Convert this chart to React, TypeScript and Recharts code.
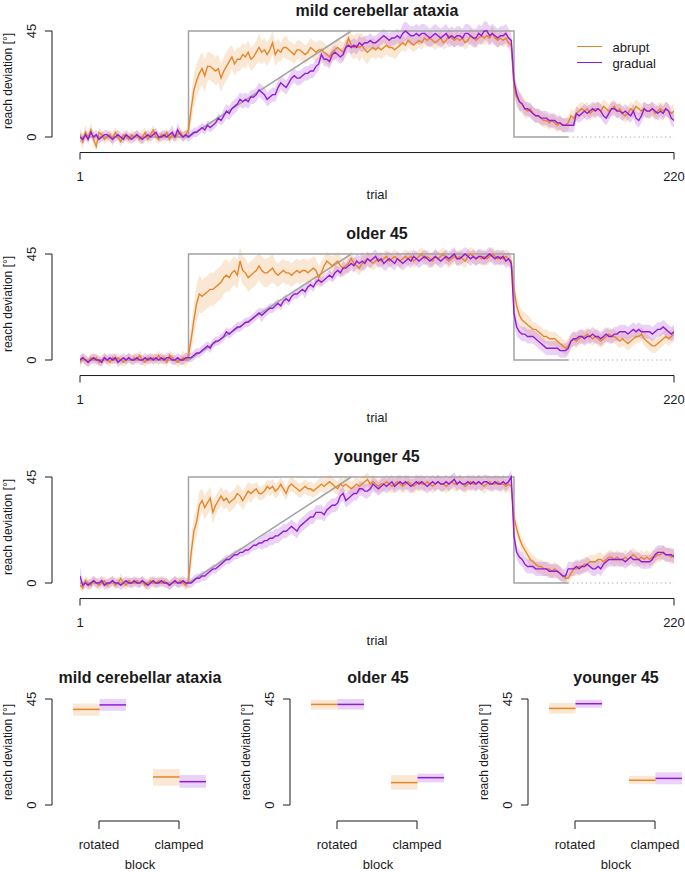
import React from "react";
import { ComposedChart, Line, Area, Bar, XAxis, YAxis, ReferenceLine } from "recharts";

const ORANGE = "#e6862a";
const PURPLE = "#931bd8";
const GRAY = "#a3a3a3";
const INK = "#1a1a1a";
const FONT = '"Liberation Sans", Arial, Helvetica, sans-serif';

// trial numbers (x categories)
const trials = Array.from({ length: 220 }, (_, i) => i + 1);

// perturbation schedule (breakpoints)
const abruptScheduleTrial = [1, 41, 41, 161, 161, 181];
const abruptScheduleValue = [0, 0, 45, 45, 0, 0];
const gradualScheduleTrial = [41, 101];
const gradualScheduleValue = [0, 45];
const clampTrial = [181, 220];
const clampValue = [0, 0];

// ---- mild cerebellar ataxia ----
const ataxiaAbrupt = [
  1, -2, 2, 0, 3, -1, -4, 2, 1, -1,
  0, 1, -1, 2, 0, -2, 1, 0, -1, 1,
  0, 1, -1, 0, 2, -1, 1, 3, 0, -1,
  1, 0, 2, -1, 1, 0, 1, 2, 0, 1,
  3, 12, 20, 24, 27, 29, 26, 30, 30, 29,
  28, 29, 25, 28, 30, 32, 34, 31, 33, 33,
  35, 34, 36, 33, 34, 36, 38, 36, 37, 35,
  37, 40, 35, 37, 36, 38, 38, 37, 36, 35,
  37, 37, 36, 35, 36, 38, 37, 36, 37, 37,
  36, 35, 34, 36, 37, 38, 37, 36, 38, 42,
  39, 38, 39, 38, 39, 37, 36, 37, 38, 37,
  38, 37, 38, 39, 38, 38, 37, 38, 39, 40,
  39, 41, 40, 39, 40, 41, 40, 42, 41, 42,
  41, 40, 41, 42, 40, 41, 43, 42, 41, 42,
  41, 42, 40, 41, 43, 42, 41, 42, 43, 42,
  43, 42, 44, 42, 41, 42, 41, 42, 40, 39,
  21, 17, 15, 14, 12, 11, 12, 10, 9, 9,
  8, 7, 7, 6, 7, 6, 5, 6, 5, 5,
  6, 9, 8, 10, 11, 12, 11, 12, 10, 11,
  12, 12, 11, 13, 12, 11, 12, 13, 11, 12,
  10, 9, 10, 12, 11, 13, 12, 11, 12, 11,
  11, 12, 10, 11, 12, 11, 12, 11, 10, 11,
];
const ataxiaAbruptSem = [
  3, 3, 3, 2, 3, 3, 2, 2, 2, 2,
  2, 2, 3, 2, 2, 2, 2, 2, 2, 2,
  2, 2, 2, 3, 2, 2, 2, 2, 2, 2,
  2, 2, 2, 2, 2, 2, 3, 2, 2, 2,
  3, 6, 7, 7, 7, 7, 7, 6, 6, 6,
  6, 6, 6, 6, 6, 6, 5, 5, 5, 5,
  5, 5, 5, 5, 5, 5, 6, 5, 5, 5,
  5, 5, 5, 5, 4, 4, 5, 4, 4, 4,
  4, 4, 4, 4, 4, 4, 4, 4, 4, 4,
  4, 4, 4, 4, 4, 4, 4, 4, 4, 4,
  5, 5, 5, 6, 5, 5, 5, 4, 4, 4,
  4, 4, 4, 4, 4, 4, 4, 4, 3, 3,
  3, 3, 3, 3, 3, 3, 3, 3, 3, 3,
  3, 3, 3, 3, 3, 3, 3, 3, 3, 3,
  3, 3, 3, 3, 3, 3, 3, 3, 3, 3,
  3, 3, 3, 3, 3, 3, 3, 3, 3, 3,
  4, 4, 4, 4, 4, 3, 3, 3, 3, 3,
  3, 3, 3, 3, 3, 3, 3, 3, 3, 3,
  3, 3, 3, 3, 3, 3, 3, 3, 3, 3,
  3, 3, 3, 3, 3, 3, 3, 3, 3, 3,
  3, 3, 3, 3, 3, 3, 3, 3, 3, 3,
  3, 3, 3, 3, 3, 3, 3, 3, 3, 3,
];
const ataxiaGradual = [
  0, -1, 1, -1, 2, 0, 1, -1, 0, 1,
  1, 0, -1, 0, 1, 0, -1, 1, 0, -1,
  0, 1, 0, -1, 0, 1, 0, 1, 2, 0,
  0, 1, 0, 1, 2, 0, 3, 1, 0, 1,
  0, 1, 2, 2, 3, 4, 3, 5, 4, 5,
  6, 8, 7, 9, 11, 10, 12, 13, 14, 16,
  15, 16, 15, 17, 17, 18, 20, 19, 18, 16,
  17, 18, 18, 21, 23, 22, 21, 23, 25, 26,
  25, 25, 26, 27, 27, 28, 28, 30, 31, 35,
  33, 33, 32, 35, 36, 35, 34, 35, 38, 39,
  38, 39, 38, 40, 39, 40, 40, 41, 40, 40,
  41, 42, 43, 42, 41, 42, 42, 43, 42, 44,
  45, 44, 43, 43, 44, 43, 44, 44, 43, 42,
  43, 44, 43, 42, 43, 44, 42, 43, 42, 43,
  43, 42, 44, 44, 43, 42, 42, 44, 43, 45,
  45, 43, 44, 43, 42, 43, 43, 44, 42, 41,
  24, 18, 15, 14, 12, 12, 11, 10, 9, 9,
  8, 8, 8, 7, 7, 7, 6, 6, 5, 5,
  5, 5, 5, 10, 9, 10, 11, 10, 11, 12,
  11, 12, 11, 9, 8, 10, 12, 12, 11, 11,
  10, 11, 10, 9, 11, 8, 7, 9, 12, 11,
  11, 12, 11, 10, 11, 10, 12, 11, 8, 7,
];
const ataxiaGradualSem = [
  2, 2, 2, 2, 2, 2, 2, 2, 2, 2,
  2, 2, 2, 2, 2, 2, 2, 2, 2, 2,
  2, 2, 2, 2, 2, 2, 2, 2, 2, 2,
  2, 2, 2, 2, 3, 2, 3, 2, 2, 2,
  2, 2, 2, 2, 2, 2, 2, 2, 2, 2,
  2, 2, 2, 3, 3, 3, 3, 3, 3, 3,
  3, 3, 3, 3, 3, 3, 3, 3, 3, 3,
  3, 3, 3, 3, 3, 3, 3, 3, 3, 3,
  3, 3, 3, 3, 3, 3, 3, 3, 3, 3,
  3, 3, 3, 3, 3, 3, 3, 3, 3, 3,
  3, 3, 3, 3, 3, 3, 3, 3, 3, 3,
  3, 3, 3, 3, 3, 3, 3, 3, 3, 4,
  4, 4, 4, 4, 4, 4, 4, 4, 4, 4,
  4, 4, 4, 4, 4, 4, 4, 4, 4, 4,
  4, 4, 4, 4, 4, 4, 4, 4, 4, 4,
  4, 4, 4, 4, 4, 4, 4, 4, 4, 3,
  4, 4, 4, 3, 3, 3, 3, 3, 3, 3,
  3, 3, 3, 3, 3, 3, 3, 3, 3, 3,
  3, 3, 3, 3, 3, 3, 3, 3, 3, 3,
  3, 3, 3, 3, 3, 3, 3, 3, 3, 3,
  3, 3, 3, 3, 3, 3, 3, 3, 3, 3,
  3, 3, 3, 3, 3, 3, 3, 3, 3, 3,
];

// ---- older 45 ----
const olderAbrupt = [
  -1, 1, 0, -1, 1, 0, 1, -1, 0, 1,
  0, -1, 1, 0, 1, 0, -1, 0, 1, 0,
  1, 0, 2, 0, -1, 1, 0, 1, 0, 2,
  0, 1, -1, 2, 1, 0, -1, 0, 1, 0,
  2, 9, 17, 24, 28, 27, 28, 29, 30, 30,
  31, 32, 33, 35, 36, 35, 37, 38, 36, 42,
  38, 37, 35, 36, 37, 38, 40, 38, 37, 37,
  38, 39, 37, 36, 37, 38, 37, 37, 36, 37,
  38, 37, 38, 38, 37, 38, 39, 38, 35, 37,
  40, 42, 41, 40, 41, 42, 40, 39, 40, 41,
  43, 41, 40, 39, 41, 42, 43, 42, 41, 42,
  43, 42, 43, 44, 42, 43, 44, 43, 42, 43,
  44, 43, 44, 42, 43, 44, 45, 43, 44, 43,
  42, 44, 43, 44, 45, 43, 42, 43, 44, 43,
  44, 43, 42, 44, 45, 44, 43, 44, 43, 44,
  43, 44, 45, 44, 43, 44, 43, 44, 43, 42,
  30, 23, 19, 17, 16, 15, 14, 13, 13, 12,
  11, 10, 10, 9, 9, 9, 8, 7, 6, 5,
  6, 8, 9, 8, 9, 10, 10, 11, 10, 9,
  10, 9, 8, 9, 10, 11, 10, 10, 9, 8,
  9, 8, 7, 8, 9, 10, 10, 11, 9, 8,
  7, 6, 6, 7, 8, 9, 10, 9, 10, 11,
];
const olderAbruptSem = [
  2, 2, 2, 2, 2, 2, 2, 2, 2, 2,
  2, 2, 2, 2, 2, 2, 2, 2, 2, 2,
  2, 2, 2, 2, 2, 2, 2, 2, 2, 2,
  2, 2, 2, 2, 2, 2, 2, 2, 3, 3,
  3, 6, 7, 8, 8, 7, 7, 7, 7, 7,
  7, 7, 7, 7, 7, 6, 6, 6, 6, 6,
  6, 6, 6, 6, 6, 6, 6, 6, 6, 6,
  6, 6, 5, 5, 5, 5, 5, 5, 5, 5,
  5, 5, 5, 5, 5, 5, 5, 5, 5, 5,
  4, 4, 4, 4, 4, 4, 4, 4, 4, 4,
  3, 3, 3, 3, 3, 3, 3, 3, 3, 3,
  3, 3, 3, 3, 3, 3, 3, 3, 3, 3,
  3, 3, 3, 3, 3, 3, 3, 3, 3, 3,
  3, 3, 3, 3, 3, 3, 3, 3, 3, 3,
  3, 3, 3, 3, 3, 3, 3, 3, 3, 3,
  3, 3, 3, 3, 3, 3, 3, 3, 3, 3,
  4, 4, 4, 4, 4, 4, 4, 3, 3, 3,
  3, 3, 3, 3, 3, 3, 3, 3, 3, 3,
  3, 3, 3, 3, 3, 3, 3, 3, 3, 3,
  3, 3, 3, 3, 3, 3, 3, 3, 3, 3,
  3, 3, 3, 3, 3, 3, 3, 3, 3, 3,
  3, 3, 3, 3, 3, 3, 3, 3, 3, 3,
];
const olderGradual = [
  0, 1, 0, -1, 0, 1, 0, 0, -1, 1,
  0, 1, 0, 1, -1, 0, 1, 0, 1, 0,
  0, 1, 0, 0, 1, 0, 1, 0, 1, 0,
  1, 0, 1, 1, 0, 0, 1, 0, 0, 1,
  1, 1, 2, 3, 3, 4, 5, 6, 5, 7,
  8, 8, 9, 10, 12, 11, 12, 13, 14, 14,
  15, 16, 16, 17, 18, 19, 20, 19, 20, 21,
  22, 22, 23, 24, 23, 25, 26, 25, 27, 28,
  28, 29, 30, 29, 31, 32, 31, 33, 34, 33,
  34, 35, 36, 35, 37, 38, 37, 39, 39, 40,
  41, 40, 42, 41, 42, 41, 43, 42, 43, 44,
  42, 43, 41, 42, 43, 42, 41, 43, 42, 41,
  42, 43, 42, 44, 43, 42, 43, 44, 43, 42,
  43, 44, 43, 42, 43, 44, 43, 44, 45, 43,
  43, 44, 45, 44, 43, 44, 43, 44, 44, 43,
  44, 45, 44, 43, 44, 43, 44, 42, 43, 41,
  20, 14, 12, 11, 11, 10, 10, 10, 9, 8,
  7, 6, 5, 5, 5, 5, 5, 4, 4, 4,
  5, 8, 9, 9, 10, 10, 9, 10, 10, 11,
  10, 10, 9, 10, 11, 10, 10, 11, 11, 12,
  12, 12, 11, 12, 13, 12, 13, 12, 12, 12,
  12, 11, 12, 13, 13, 14, 13, 12, 11, 12,
];
const olderGradualSem = [
  2, 2, 2, 2, 2, 2, 2, 2, 2, 2,
  2, 2, 2, 2, 2, 2, 2, 2, 2, 2,
  2, 2, 2, 2, 2, 2, 2, 2, 2, 2,
  2, 2, 2, 2, 2, 2, 2, 2, 2, 2,
  2, 2, 2, 2, 2, 2, 2, 2, 2, 2,
  2, 2, 2, 2, 2, 2, 2, 2, 2, 2,
  2, 2, 2, 2, 2, 2, 2, 3, 2, 2,
  2, 2, 2, 2, 2, 2, 2, 2, 2, 2,
  2, 2, 2, 3, 2, 2, 2, 2, 2, 2,
  2, 2, 2, 2, 3, 2, 2, 3, 2, 3,
  3, 3, 3, 3, 4, 3, 3, 3, 3, 3,
  3, 3, 3, 4, 3, 3, 3, 3, 3, 3,
  3, 3, 3, 3, 3, 3, 3, 3, 3, 3,
  3, 3, 3, 3, 3, 3, 3, 3, 3, 3,
  3, 3, 3, 3, 3, 3, 3, 3, 3, 3,
  3, 3, 3, 3, 3, 3, 3, 3, 3, 3,
  3, 4, 3, 3, 3, 3, 3, 3, 3, 3,
  3, 3, 3, 3, 3, 3, 3, 3, 3, 3,
  3, 3, 3, 3, 3, 3, 3, 3, 3, 3,
  3, 3, 3, 3, 3, 3, 3, 3, 3, 3,
  3, 3, 3, 3, 3, 3, 3, 3, 3, 3,
  3, 3, 3, 3, 3, 3, 3, 3, 3, 3,
];

// ---- younger 45 ----
const youngerAbrupt = [
  -1, -2, 1, 0, -1, 1, 0, -1, 0, 1,
  -1, 0, 1, -1, 0, 2, 0, -1, 1, 0,
  0, 1, 0, 1, -1, 0, 1, 0, 0, 1,
  0, 1, 0, -1, 0, 1, 0, 1, 0, -1,
  1, 13, 22, 26, 33, 35, 32, 34, 36, 30,
  33, 35, 37, 35, 36, 34, 35, 36, 38, 37,
  35, 37, 39, 38, 39, 40, 38, 38, 39, 41,
  40, 41, 39, 40, 42, 40, 38, 41, 42, 41,
  40, 39, 40, 41, 40, 40, 39, 40, 41, 42,
  41, 42, 43, 42, 41, 40, 42, 41, 42, 41,
  40, 41, 42, 41, 42, 43, 44, 42, 43, 42,
  41, 42, 42, 43, 42, 41, 42, 43, 42, 41,
  42, 43, 42, 41, 42, 43, 42, 42, 43, 42,
  41, 42, 43, 42, 42, 41, 42, 43, 42, 42,
  43, 42, 41, 42, 43, 42, 42, 43, 42, 41,
  42, 43, 42, 42, 43, 42, 42, 41, 42, 41,
  28, 23, 19, 16, 14, 12, 10, 9, 8, 7,
  7, 6, 6, 6, 5, 6, 5, 4, 3, 2,
  2, 4, 6, 6, 7, 7, 8, 8, 9, 9,
  9, 10, 10, 9, 10, 11, 11, 10, 11, 10,
  10, 11, 10, 11, 12, 11, 10, 11, 10, 11,
  10, 11, 11, 12, 12, 13, 12, 12, 11, 12,
];
const youngerAbruptSem = [
  2, 2, 2, 2, 2, 2, 2, 2, 2, 2,
  2, 2, 2, 2, 2, 2, 2, 2, 2, 2,
  2, 2, 2, 2, 2, 2, 2, 2, 2, 2,
  2, 2, 2, 2, 2, 2, 2, 2, 2, 2,
  3, 6, 6, 6, 6, 5, 5, 5, 5, 5,
  4, 4, 4, 4, 4, 4, 4, 4, 4, 4,
  4, 4, 4, 4, 3, 3, 3, 3, 3, 3,
  3, 3, 3, 3, 3, 3, 3, 3, 3, 3,
  3, 3, 3, 3, 3, 3, 3, 3, 3, 3,
  3, 3, 3, 3, 3, 3, 3, 3, 3, 3,
  3, 3, 3, 3, 3, 3, 3, 3, 3, 3,
  3, 3, 3, 3, 3, 3, 3, 3, 3, 3,
  3, 3, 3, 3, 3, 3, 3, 3, 3, 3,
  3, 3, 3, 3, 3, 3, 3, 3, 3, 3,
  3, 3, 3, 3, 3, 3, 3, 3, 3, 3,
  3, 3, 3, 3, 3, 3, 3, 3, 3, 3,
  3, 3, 3, 3, 3, 3, 3, 3, 3, 3,
  3, 3, 3, 3, 3, 3, 3, 3, 2, 2,
  2, 2, 3, 3, 3, 3, 3, 3, 3, 3,
  3, 3, 3, 3, 3, 3, 3, 3, 3, 3,
  3, 3, 3, 3, 3, 3, 3, 3, 3, 3,
  3, 3, 3, 3, 3, 3, 3, 3, 3, 3,
];
const youngerGradual = [
  3, -1, 0, -1, 0, 1, 0, 0, 1, -1,
  0, 0, 1, 0, 0, -1, 0, 1, 0, 0,
  1, 0, 0, 1, 0, -1, 0, 1, 0, 0,
  1, 0, 0, -1, 0, 1, 0, 0, 1, 0,
  0, 0, 1, 2, 2, 3, 3, 4, 5, 6,
  6, 7, 8, 9, 10, 10, 11, 12, 12, 13,
  13, 14, 14, 15, 16, 16, 17, 17, 18, 18,
  19, 19, 20, 20, 21, 22, 22, 23, 24, 23,
  22, 24, 25, 26, 27, 28, 28, 30, 30, 30,
  29, 31, 32, 33, 33, 34, 37, 38, 35, 36,
  37, 38, 38, 40, 40, 39, 39, 40, 42, 41,
  40, 41, 42, 41, 42, 43, 41, 42, 43, 42,
  43, 42, 41, 42, 43, 42, 43, 42, 41, 42,
  43, 42, 43, 42, 42, 43, 42, 43, 44, 42,
  43, 42, 42, 43, 42, 43, 42, 43, 42, 43,
  43, 42, 42, 43, 42, 42, 43, 42, 43, 45,
  20, 13, 11, 10, 8, 7, 7, 7, 6, 6,
  6, 6, 6, 5, 5, 5, 5, 4, 3, 3,
  6, 6, 6, 7, 6, 7, 7, 8, 7, 6,
  6, 7, 6, 8, 9, 10, 10, 10, 10, 10,
  10, 9, 10, 11, 10, 10, 10, 9, 9, 9,
  9, 10, 12, 13, 13, 13, 12, 12, 12, 11,
];
const youngerGradualSem = [
  4, 2, 2, 2, 2, 2, 2, 2, 2, 2,
  2, 2, 2, 2, 2, 2, 2, 2, 2, 2,
  2, 2, 2, 2, 2, 2, 2, 2, 2, 2,
  2, 2, 2, 2, 2, 2, 2, 2, 2, 2,
  2, 2, 2, 2, 2, 2, 2, 2, 2, 2,
  2, 2, 2, 2, 2, 2, 2, 2, 2, 2,
  2, 2, 2, 2, 2, 2, 2, 3, 3, 3,
  3, 3, 3, 3, 3, 3, 3, 3, 3, 3,
  3, 3, 3, 3, 3, 3, 3, 3, 3, 3,
  3, 3, 3, 3, 3, 3, 3, 3, 3, 3,
  3, 3, 3, 3, 3, 3, 3, 3, 3, 3,
  3, 3, 3, 3, 3, 3, 3, 3, 3, 3,
  3, 3, 3, 3, 3, 3, 3, 3, 3, 3,
  3, 3, 3, 3, 3, 3, 3, 3, 3, 3,
  3, 3, 3, 3, 3, 3, 3, 3, 3, 3,
  3, 3, 3, 3, 3, 3, 3, 3, 3, 3,
  3, 3, 3, 3, 3, 3, 3, 3, 3, 3,
  3, 3, 3, 3, 3, 3, 3, 3, 3, 3,
  3, 3, 3, 3, 3, 3, 3, 3, 3, 3,
  3, 3, 3, 3, 3, 3, 3, 3, 3, 3,
  3, 3, 3, 3, 3, 3, 3, 3, 3, 3,
  3, 3, 3, 3, 3, 3, 3, 3, 3, 3,
];

// ---- block averages (bottom row) ----
const blocks = ["rotated", "clamped"];
const ataxiaBlockAbrupt = [40.6, 11.9];
const ataxiaBlockAbruptLo = [37.9, 8.2];
const ataxiaBlockAbruptHi = [43.1, 15.3];
const ataxiaBlockGradual = [42.5, 9.9];
const ataxiaBlockGradualLo = [40.0, 7.3];
const ataxiaBlockGradualHi = [45.0, 12.7];
const olderBlockAbrupt = [42.7, 9.5];
const olderBlockAbruptLo = [40.5, 6.5];
const olderBlockAbruptHi = [44.7, 12.7];
const olderBlockGradual = [42.7, 11.6];
const olderBlockGradualLo = [40.5, 9.6];
const olderBlockGradualHi = [45.0, 13.3];
const youngerBlockAbrupt = [41.0, 10.5];
const youngerBlockAbruptLo = [38.8, 8.8];
const youngerBlockAbruptHi = [43.4, 12.4];
const youngerBlockGradual = [43.0, 11.3];
const youngerBlockGradualLo = [41.3, 8.8];
const youngerBlockGradualHi = [44.7, 13.9];

const K = 106 / 45; // px per degree
const PANEL_H = 223;
const Y_AXIS_TRIAL = 1 - (28 * 219) / 594; // x of R-style y axis, in trial units

const YTick = (props: any) => {
  const { x, y, payload } = props;
  const lx = x - 20.5;
  return (
    <g>
      <line x1={x} y1={y} x2={x - 7} y2={y} stroke={INK} />
      <text x={lx} y={y} transform={`rotate(-90 ${lx} ${y})`} textAnchor="middle" dy="0.35em" fontSize={13} fill={INK}>
        {payload.value}
      </text>
    </g>
  );
};

const Txt = ({ x, y, children, size = 13, bold = false, rotate = false, anchor = "center" }: any) => (
  <div
    style={{
      position: "absolute",
      left: x,
      top: y,
      transform: `translate(${anchor === "left" ? "0" : "-50%"},-50%)${rotate ? " rotate(-90deg)" : ""}`,
      fontSize: size,
      fontWeight: bold ? 700 : 400,
      whiteSpace: "nowrap",
      lineHeight: 1,
    }}
  >
    {children}
  </div>
);

const toPoints = (xs: number[], vs: number[]) => xs.map((t, i) => ({ trial: t, v: vs[i] }));

function TrialPanel({ top, title, abrupt, abruptSem, gradual, gradualSem, legend }: any) {
  const data = trials.map((t, i) => ({
    trial: t,
    a: abrupt[i],
    g: gradual[i],
    aBand: [abrupt[i] - abruptSem[i], abrupt[i] + abruptSem[i]],
    gBand: [gradual[i] - gradualSem[i], gradual[i] + gradualSem[i]],
  }));
  const yMin = -6.6;
  const yMax = 51;
  const mTop = 31 - (yMax - 45) * K;
  const plotBottom = 137 - yMin * K;
  return (
    <div style={{ position: "absolute", left: 0, top, width: 685, height: PANEL_H }}>
      <ComposedChart width={685} height={PANEL_H} data={data} margin={{ top: mTop, right: 11, bottom: PANEL_H - plotBottom - 30, left: 0 }}>
        <XAxis dataKey="trial" type="number" domain={[1, 220]} ticks={[1, 220]} height={30} stroke={INK} tickSize={7} tickMargin={12} tick={{ fill: INK, fontSize: 13 }} allowDataOverflow />
        <YAxis type="number" domain={[yMin, yMax]} ticks={[0, 45]} width={80} axisLine={false} tickLine={false} tickSize={0} tickMargin={28} tick={(p: any) => <YTick {...p} />} allowDataOverflow />
        <ReferenceLine segment={[{ x: Y_AXIS_TRIAL, y: 0 }, { x: Y_AXIS_TRIAL, y: 45 }]} stroke={INK} ifOverflow="visible" />
        <Line data={toPoints(abruptScheduleTrial, abruptScheduleValue)} dataKey="v" stroke={GRAY} strokeWidth={1.5} dot={false} isAnimationActive={false} />
        <Line data={toPoints(gradualScheduleTrial, gradualScheduleValue)} dataKey="v" stroke={GRAY} strokeWidth={1.5} dot={false} isAnimationActive={false} />
        <Line data={toPoints(clampTrial, clampValue)} dataKey="v" stroke={GRAY} strokeWidth={1.2} strokeDasharray="1.2 3.2" dot={false} isAnimationActive={false} />
        <Area dataKey="aBand" stroke="none" fill={ORANGE} fillOpacity={0.2} isAnimationActive={false} />
        <Area dataKey="gBand" stroke="none" fill={PURPLE} fillOpacity={0.2} isAnimationActive={false} />
        <Line dataKey="a" stroke={ORANGE} strokeWidth={1.4} dot={false} isAnimationActive={false} />
        <Line dataKey="g" stroke={PURPLE} strokeWidth={1.4} dot={false} isAnimationActive={false} />
      </ComposedChart>
      <Txt x={377} y={10.5} size={16} bold>{title}</Txt>
      <Txt x={377} y={194}>trial</Txt>
      <Txt x={8} y={80.5} size={12} rotate>reach deviation [°]</Txt>
      {legend && (
        <>
          <div style={{ position: "absolute", left: 577, top: 46, width: 25, borderTop: `1.5px solid ${ORANGE}` }} />
          <div style={{ position: "absolute", left: 577, top: 62, width: 25, borderTop: `1.5px solid ${PURPLE}` }} />
          <Txt x={612.5} y={47} anchor="left">abrupt</Txt>
          <Txt x={612.5} y={63} anchor="left">gradual</Txt>
        </>
      )}
    </div>
  );
}

const makeBox = (color: string, rangeKey: string, meanKey: string) => (p: any) => {
  const top = Math.min(p.y, p.y + p.height);
  const h = Math.abs(p.height);
  const [lo, hi] = p.payload[rangeKey];
  const my = top + (h * (hi - p.payload[meanKey])) / (hi - lo);
  return (
    <g>
      <rect x={p.x} y={top} width={p.width} height={h} fill={color} fillOpacity={0.2} />
      <line x1={p.x} x2={p.x + p.width} y1={my} y2={my} stroke={color} strokeWidth={1.5} />
    </g>
  );
};

function BlockPanel({ left, title, am, alo, ahi, gm, glo, ghi }: any) {
  const data = blocks.map((b, i) => ({
    block: b,
    a: [alo[i], ahi[i]],
    aMean: am[i],
    g: [glo[i], ghi[i]],
    gMean: gm[i],
  }));
  const yBracket = -16 / K;
  const yTickEnd = -24 / K;
  return (
    <div style={{ position: "absolute", left, top: 665, width: 228, height: 207 }}>
      <ComposedChart width={228} height={207} data={data} margin={{ top: 34, right: 0, bottom: 17, left: 0 }} barGap={0}>
        <XAxis dataKey="block" type="category" padding={{ left: 7, right: 9 }} height={50} axisLine={false} tickLine={false} tickSize={0} tickMargin={35} tick={{ fill: INK, fontSize: 13 }} />
        <YAxis type="number" domain={[0, 45]} ticks={[0, 45]} width={52} stroke={INK} tickLine={false} tickSize={0} tickMargin={0} tick={(p: any) => <YTick {...p} />} allowDataOverflow />
        <ReferenceLine segment={[{ x: "rotated", y: yBracket }, { x: "clamped", y: yBracket }]} stroke={INK} ifOverflow="visible" />
        <ReferenceLine segment={[{ x: "rotated", y: yBracket }, { x: "rotated", y: yTickEnd }]} stroke={INK} ifOverflow="visible" />
        <ReferenceLine segment={[{ x: "clamped", y: yBracket }, { x: "clamped", y: yTickEnd }]} stroke={INK} ifOverflow="visible" />
        <Bar dataKey="a" barSize={26.5} shape={makeBox(ORANGE, "a", "aMean")} isAnimationActive={false} />
        <Bar dataKey="g" barSize={26.5} shape={makeBox(PURPLE, "g", "gMean")} isAnimationActive={false} />
      </ComposedChart>
      <Txt x={140} y={13} size={16} bold>{title}</Txt>
      <Txt x={140} y={199}>block</Txt>
      <Txt x={8} y={87} size={12} rotate>reach deviation [°]</Txt>
    </div>
  );
}

export default function App() {
  return (
    <div style={{ position: "absolute", left: 0, top: 0, width: 685, height: 872, background: "#fff", fontFamily: FONT, color: INK, overflow: "hidden" }}>
      <TrialPanel top={0} title="mild cerebellar ataxia" abrupt={ataxiaAbrupt} abruptSem={ataxiaAbruptSem} gradual={ataxiaGradual} gradualSem={ataxiaGradualSem} legend />
      <TrialPanel top={PANEL_H} title="older 45" abrupt={olderAbrupt} abruptSem={olderAbruptSem} gradual={olderGradual} gradualSem={olderGradualSem} />
      <TrialPanel top={PANEL_H * 2} title="younger 45" abrupt={youngerAbrupt} abruptSem={youngerAbruptSem} gradual={youngerGradual} gradualSem={youngerGradualSem} />
      <BlockPanel left={0} title="mild cerebellar ataxia" am={ataxiaBlockAbrupt} alo={ataxiaBlockAbruptLo} ahi={ataxiaBlockAbruptHi} gm={ataxiaBlockGradual} glo={ataxiaBlockGradualLo} ghi={ataxiaBlockGradualHi} />
      <BlockPanel left={238} title="older 45" am={olderBlockAbrupt} alo={olderBlockAbruptLo} ahi={olderBlockAbruptHi} gm={olderBlockGradual} glo={olderBlockGradualLo} ghi={olderBlockGradualHi} />
      <BlockPanel left={476} title="younger 45" am={youngerBlockAbrupt} alo={youngerBlockAbruptLo} ahi={youngerBlockAbruptHi} gm={youngerBlockGradual} glo={youngerBlockGradualLo} ghi={youngerBlockGradualHi} />
    </div>
  );
}
